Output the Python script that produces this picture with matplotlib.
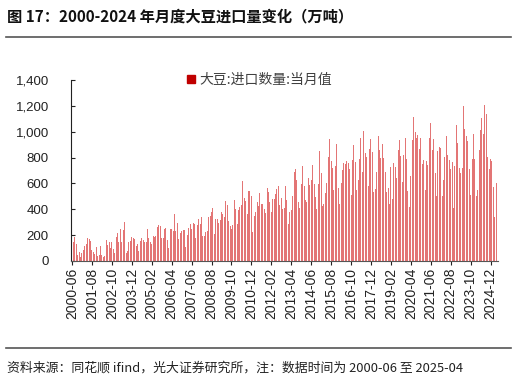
import matplotlib
matplotlib.use("Agg")
import matplotlib.pyplot as plt
from matplotlib.lines import Line2D
import numpy as np
import pandas as pd

plt.rcParams['font.family'] = ['Liberation Sans', 'Noto Sans CJK SC', 'DejaVu Sans']

# monthly soybean imports, 万吨
y2000 = [78, 148, 182, 135, 47, 70, 31]  # Jun-Dec
y2001 = [65, 83, 114, 130, 174, 169, 156, 88, 70, 52, 109, 39]
y2002 = [47, 117, 47, 31, 36, 163, 124, 150, 104, 150, 91, 65]
y2003 = [182, 215, 150, 246, 148, 241, 298, 65, 78, 143, 156, 187]
y2004 = [176, 169, 117, 130, 78, 156, 176, 163, 143, 148, 244, 176]
y2005 = [145, 130, 194, 187, 194, 259, 277, 270, 181, 181, 249, 254]
y2006 = [163, 104, 251, 244, 233, 360, 233, 296, 171, 220, 233, 239]
y2007 = [239, 111, 202, 254, 288, 246, 296, 288, 181, 277, 327, 285]
y2008 = [342, 194, 192, 226, 231, 342, 347, 379, 410, 207, 324, 324]
y2009 = [293, 319, 381, 363, 342, 467, 433, 306, 270, 246, 280, 475]
y2010 = [402, 288, 397, 415, 433, 615, 487, 462, 363, 545, 539, 506]
y2011 = [226, 345, 379, 454, 423, 526, 441, 441, 402, 373, 563, 537]
y2012 = [456, 376, 477, 480, 521, 558, 581, 433, 487, 399, 410, 583]
y2013 = [475, 285, 381, 394, 506, 687, 713, 630, 459, 410, 599, 734]
y2014 = [583, 475, 459, 643, 591, 630, 742, 596, 498, 404, 596, 848]
y2015 = [682, 423, 443, 524, 607, 804, 946, 773, 721, 550, 734, 908]
y2016 = [563, 441, 604, 700, 760, 747, 770, 760, 713, 513, 778, 895]
y2017 = [765, 550, 630, 791, 952, 690, 1003, 838, 804, 578, 863, 946]
y2018 = [843, 537, 560, 685, 965, 861, 794, 908, 794, 685, 532, 565]
y2019 = [438, 729, 482, 757, 729, 643, 856, 939, 814, 612, 822, 949]
y2020 = [791, 545, 417, 661, 934, 1110, 1001, 952, 972, 863, 949, 747]
y2021 = [778, 550, 770, 739, 954, 1068, 861, 941, 682, 500, 850, 882]
y2022 = [876, 500, 630, 804, 965, 822, 780, 710, 767, 407, 731, 1050]
y2023 = [913, 721, 679, 721, 1200, 1022, 970, 931, 713, 513, 786, 980]
y2024 = [786, 506, 550, 856, 1016, 1105, 980, 1208, 1136, 804, 708, 786]
y2025 = [773, 576, 342, 602]  # Jan-Apr

values = (y2000 + y2001 + y2002 + y2003 + y2004 + y2005 + y2006 + y2007 + y2008
          + y2009 + y2010 + y2011 + y2012 + y2013 + y2014 + y2015 + y2016 + y2017
          + y2018 + y2019 + y2020 + y2021 + y2022 + y2023 + y2024 + y2025)
months = pd.period_range('2000-06', '2025-04', freq='M').strftime('%Y-%m').tolist()

title = '图 17：2000-2024 年月度大豆进口量变化（万吨）'
legend_label = '大豆:进口数量:当月值'
source = '资料来源：同花顺 ifind，光大证券研究所，注：数据时间为 2000-06 至 2025-04'

fig = plt.figure(figsize=(5.16, 3.82), dpi=100)
ax = fig.add_axes([0.1376, 0.3168, 0.8274, 0.4738])

x = np.arange(len(values))
ax.bar(x, values, width=0.7, color='#E37575', linewidth=0)

ax.set_ylim(0, 1400)
ax.set_xlim(-0.7, 299.2)
ax.set_yticks(np.arange(0, 1401, 200))
ax.set_yticklabels([f'{v:,}' for v in range(0, 1401, 200)], fontsize=9.5)
tick_pos = x[::14]
ax.set_xticks(tick_pos)
ax.set_xticklabels([months[i] for i in tick_pos], rotation=90, fontsize=10)

for s in ['top', 'right']:
    ax.spines[s].set_visible(False)
ax.spines['left'].set_color('#222222')
ax.spines['bottom'].set_color('#555555')
ax.tick_params(axis='y', direction='in', length=3, pad=16, colors='#222222')
ax.tick_params(axis='x', direction='out', length=3, pad=2, colors='#222222')

handle = Line2D([], [], marker='s', linestyle='none', color='#C00000', markersize=5.5)
fig.legend([handle], [legend_label], loc='center left', bbox_to_anchor=(0.362, 0.79),
           frameon=False, handlelength=0.6, handletextpad=0.3, borderaxespad=0,
           borderpad=0, labelcolor='#404040',
           prop={'family': ['Noto Sans CJK SC'], 'size': 10})

fig.text(0.014, 0.958, title, fontsize=11, fontweight='bold', va='center',
         family=['Noto Sans CJK SC'], color='#111111')
fig.add_artist(Line2D([0.012, 0.99], [0.904, 0.904], color='#555555', lw=1.2))
fig.add_artist(Line2D([0.012, 0.99], [0.089, 0.089], color='#555555', lw=1.2))
fig.text(0.014, 0.037, source, fontsize=9.3, va='center',
         family=['Noto Sans CJK SC'], color='#222222')

fig.savefig('out.png', dpi=100)
